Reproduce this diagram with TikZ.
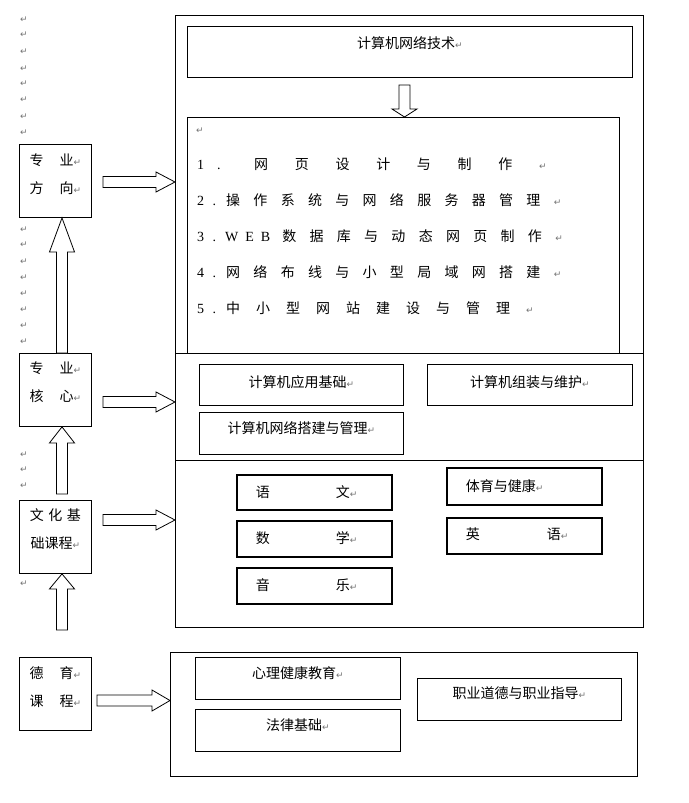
\documentclass[tikz,border=0pt]{standalone}
\usepackage{fontspec}
\newfontfamily\cjk{Noto Sans CJK SC}
\newfontfamily\serifnum{Liberation Serif}
\newfontfamily\markfont{DejaVu Sans}
\usetikzlibrary{calc,positioning}

% paragraph mark
\newcommand\ret{{\markfont\fontsize{9}{10}\selectfont\textcolor{black!55}{↵}}}
% letter-spaced text
\newcommand\spaced[2]{\def\spgap{#1}\spacedloop#2\relax}
\def\spacedloop#1{\ifx#1\relax\else#1\hspace{\spgap}\expandafter\spacedloop\fi}
% hollow block arrow: tail, tip, head length, head half width
\newcommand\fatarrow[4]{%
  \coordinate (fa-h) at ($(#2)!#3!(#1)$);
  \draw[arrowbody] ($(#1)!5.5pt!90:(#2)$) -- ($(fa-h)!5.5pt!90:(#2)$)
    -- ($(fa-h)!#4!90:(#2)$) -- (#2) -- ($(fa-h)!#4!-90:(#2)$)
    -- ($(fa-h)!5.5pt!-90:(#2)$) -- ($(#1)!5.5pt!-90:(#2)$) -- cycle;}

\begin{document}
\begin{tikzpicture}[x=1pt,y=-1pt,
    every node/.style={font=\cjk\fontsize{14}{16}\selectfont, inner sep=0pt},
    box/.style={draw, line width=0.9pt, anchor=north west},
    single/.style={text height=12pt, text depth=#1},
    single/.default=2pt,
    pairbox/.style={box, line width=1.5pt, minimum width=155pt, inner xsep=19pt,
      text width=117pt, align=left, single},
    boxtext/.style={align=center, font=\cjk\fontsize{14}{28}\selectfont},
    listline/.style={anchor=west, text height=12pt, text depth=2pt},
    retmark/.style={font=\markfont\fontsize{9}{10}\selectfont},
    arrowbody/.style={draw, fill=white, line width=0.8pt, line join=miter}]

  \useasboundingbox[fill=white] (0,0) rectangle (688,803);

  % left column
  \node[box, minimum width=72pt, minimum height=73pt] (dir)  at (19,144) {};
  \node[box, minimum width=72pt, minimum height=73pt] (core) at (19,353) {};
  \node[box, minimum width=72pt, minimum height=73pt] (base) at (19,500) {};
  \node[box, minimum width=72pt, minimum height=73pt] (ethics) at (19,657) {};

  \node[boxtext, below=9.5pt of dir.north]    (dir-t)  {专\hspace{16pt}业\ret\\方\hspace{16pt}向\ret};
  \node[boxtext, below=8.5pt of core.north]   (core-t) {专\hspace{16pt}业\ret\\核\hspace{16pt}心\ret};
  \node[boxtext, below=8.5pt of base.north]   (base-t) {文\hspace{4.5pt}化\hspace{4.5pt}基\\础课程\ret};
  \node[boxtext, below=9.5pt of ethics.north] (ethics-t) {德\hspace{16pt}育\ret\\课\hspace{16pt}程\ret};

  \foreach \y [count=\i] in {20,35,52,69,84,100,117,133,230,245,262,278,294,310,326,342,455,470,486,584}
    \node[retmark] (m\i) at (24,\y) {\ret};

  % right column, upper frame
  \node[box, minimum width=468pt, minimum height=612pt] (outer) at (175,15) {};
  \node[box, minimum width=445pt, minimum height=51pt, single=19pt] (major) at (187,26) {计算机网络技术\ret};
  \node[box, minimum width=432pt, minimum height=236pt] (list) at (187,117) {};
  \coordinate (div) at (175,460);
  \draw[line width=0.9pt] (list.south -| outer.west) -- (list.south -| outer.east);
  \draw[line width=0.9pt] (div) -- (div -| outer.east);

  \node[retmark] (m0) at (200,131) {\ret};
  \node[listline] (l1) at (197,164) {{\serifnum 1\hspace{13pt}.}\hspace{33.5pt}\spaced{26.7pt}{网页设计与制作}\ret};
  \node[listline] (l2) at (197,200) {{\serifnum 2\hspace{8.5pt}.}\hspace{10pt}\spaced{13.3pt}{操作系统与网络服务器管理}\ret};
  \node[listline] (l3) at (197,236) {{\serifnum 3\hspace{8.5pt}.\hspace{9pt}\spaced{7pt}{WEB}}\hspace{5pt}\spaced{13.3pt}{数据库与动态网页制作}\ret};
  \node[listline] (l4) at (197,272) {{\serifnum 4\hspace{8.5pt}.}\hspace{10pt}\spaced{13.3pt}{网络布线与小型局域网搭建}\ret};
  \node[listline] (l5) at (197,308) {{\serifnum 5\hspace{8.5pt}.}\hspace{10pt}\spaced{16pt}{中小型网站建设与管理}\ret};

  \node[box, minimum width=204pt, minimum height=41pt, single=6pt]  (app) at (199,364) {计算机应用基础\ret};
  \node[box, minimum width=205pt, minimum height=41pt, single=6pt]  (asm) at (427,364) {计算机组装与维护\ret};
  \node[box, minimum width=204pt, minimum height=42pt, single=12pt] (net) at (199,412) {计算机网络搭建与管理\ret};

  \node[pairbox, minimum height=35pt] (chinese) at (236,474) {语\hspace{66pt}文\ret};
  \node[pairbox, minimum height=36pt] (maths)   at (236,520) {数\hspace{66pt}学\ret};
  \node[pairbox, minimum height=36pt] (music)   at (236,567) {音\hspace{66pt}乐\ret};
  \node[pairbox, minimum height=37pt] (sport)   at (446,467) {体育与健康\ret};
  \node[pairbox, minimum height=36pt, single=5pt] (english) at (446,517) {英\hspace{67pt}语\ret};

  % right column, lower frame
  \node[box, minimum width=467pt, minimum height=124pt] (moral) at (170,652) {};
  \node[box, minimum width=205pt, minimum height=42pt, single=12pt] (psy)   at (195,657) {心理健康教育\ret};
  \node[box, minimum width=205pt, minimum height=42pt, single=12pt] (law)   at (195,709) {法律基础\ret};
  \node[box, minimum width=204pt, minimum height=42pt, single=14pt] (career) at (417,678) {职业道德与职业指导\ret};

  % block arrows
  \coordinate (d0) at (404.5,85);
  \coordinate (d1) at (d0 |- list.north);
  \fatarrow{d0}{d1}{8pt}{12.5pt}

  \coordinate (a1) at (103,182);
  \coordinate (a1e) at (a1 -| outer.west);
  \fatarrow{a1}{a1e}{19pt}{10pt}
  \coordinate (a2) at (103,402);
  \coordinate (a2e) at (a2 -| outer.west);
  \fatarrow{a2}{a2e}{19pt}{10pt}
  \coordinate (a3) at (103,520);
  \coordinate (a3e) at (a3 -| outer.west);
  \fatarrow{a3}{a3e}{19pt}{10pt}
  \coordinate (a4) at (97,700.5);
  \coordinate (a4e) at (a4 -| moral.west);
  \fatarrow{a4}{a4e}{18pt}{10.5pt}

  \coordinate (u1) at (62,353);
  \coordinate (u1e) at (u1 |- dir.south);
  \fatarrow{u1}{u1e}{34pt}{12.5pt}
  \coordinate (u2) at (62,494);
  \coordinate (u2e) at (u2 |- core.south);
  \fatarrow{u2}{u2e}{16pt}{12.5pt}
  \coordinate (u3) at (62,630);
  \coordinate (u3e) at (u3 |- base.south);
  \fatarrow{u3}{u3e}{15pt}{12.5pt}

\end{tikzpicture}
\end{document}
